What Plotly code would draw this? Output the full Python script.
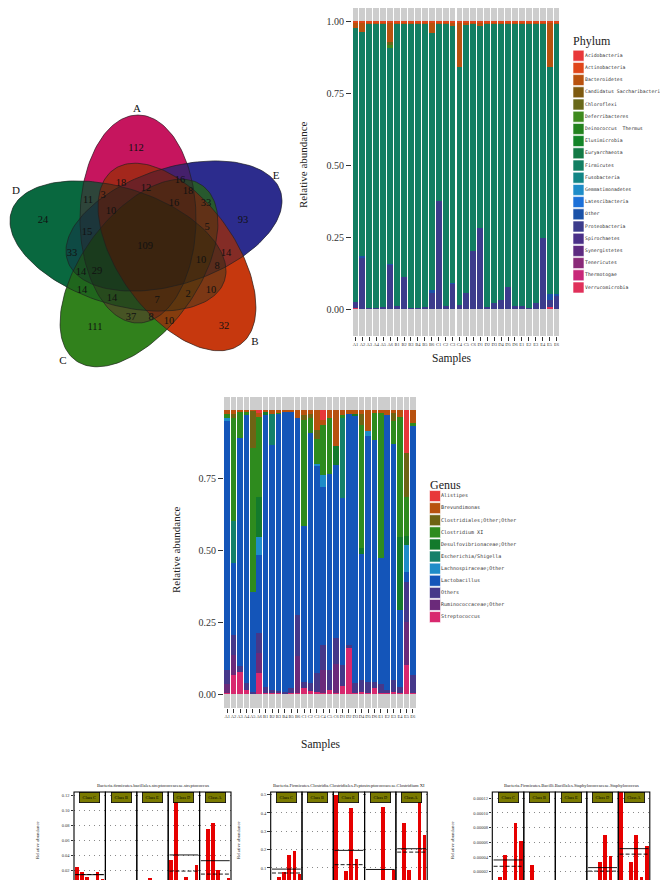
import numpy as np
import plotly.graph_objects as go

W, H = 668, 880
SERIF = "Liberation Serif"
MONO = "DejaVu Sans Mono"

# ---------------- data ----------------
venn_counts = [112, 18, 12, 16, 18, 11, 3, 16, 33, 10, 24, 93, 15, 5, 109, 33, 10, 14,
               14, 29, 8, 14, 14, 7, 2, 10, 37, 8, 10, 111, 32]
venn_sets = ["A", "E", "D", "C", "B"]

samples = ["A1", "A2", "A3", "A4", "A5", "A6", "B1", "B2", "B3", "B4", "B5", "B6",
           "C1", "C2", "C3", "C4", "C5", "C6", "D1", "D2", "D3", "D4", "D5", "D6",
           "E1", "E2", "E3", "E4", "E5", "E6"]

phylum_names = ["Acidobacteria", "Actinobacteria", "Bacteroidetes", "Candidatus Saccharibacteria",
                "Chloroflexi", "Deferribacteres", "Deinococcus  Thermus", "Elusimicrobia",
                "Euryarchaeota", "Firmicutes", "Fusobacteria", "Gemmatimonadetes",
                "Latescibacteria", "Other", "Proteobacteria", "Spirochaetes", "Synergistetes",
                "Tenericutes", "Thermotogae", "Verrucomicrobia"]

actinobacteria = [0.004] * 30
bacteroidetes = [0.020, 0.035, 0.004, 0.004, 0.004, 0.068, 0.004, 0.004, 0.003, 0.003, 0.004, 0.037,
                 0.004, 0.006, 0.015, 0.155, 0.010, 0.008, 0.015, 0.004, 0.004, 0.007, 0.005, 0.004,
                 0.004, 0.004, 0.006, 0.004, 0.155, 0.004]
chloroflexi = [0, 0, 0, 0, 0, 0.012, 0, 0, 0, 0, 0, 0, 0, 0, 0, 0, 0, 0, 0, 0, 0, 0, 0, 0, 0, 0, 0, 0, 0, 0]
deferribacteres = [0, 0, 0, 0, 0, 0.010, 0, 0, 0, 0, 0, 0, 0, 0, 0, 0, 0, 0, 0, 0, 0, 0, 0, 0, 0, 0, 0, 0, 0, 0]
firmicutes = [0.952, 0.778, 0.987, 0.988, 0.985, 0.748, 0.980, 0.882, 0.989, 0.989, 0.986, 0.892,
              0.617, 0.980, 0.891, 0.827, 0.930, 0.788, 0.698, 0.986, 0.972, 0.959, 0.916, 0.982,
              0.980, 0.988, 0.970, 0.745, 0.788, 0.939]
other_phylum = [0, 0.003, 0, 0, 0, 0.003, 0, 0, 0, 0, 0, 0.012, 0, 0, 0.002, 0, 0, 0,
                0, 0, 0, 0, 0, 0, 0, 0, 0, 0, 0.020, 0.005]
proteobacteria = [0.020, 0.180, 0.005, 0.004, 0.007, 0.155, 0.012, 0.110, 0.004, 0.004, 0.006, 0.055,
                  0.375, 0.010, 0.088, 0.014, 0.056, 0.200, 0.283, 0.006, 0.020, 0.030, 0.075, 0.010,
                  0.012, 0.004, 0.020, 0.247, 0.027, 0.048]
verrucomicrobia = [0.004, 0, 0, 0, 0, 0, 0, 0, 0, 0, 0, 0, 0, 0, 0, 0, 0, 0,
                   0, 0, 0, 0, 0, 0, 0, 0, 0, 0, 0.006, 0]

genus_names = ["Alistipes", "Brevundimonas", "Clostridiales;Other;Other", "Clostridium XI",
               "Desulfovibrionaceae;Other", "Escherichia/Shigella", "Lachnospiraceae;Other",
               "Lactobacillus", "Others", "Ruminococcaceae;Other", "Streptococcus"]
alistipes = [0, 0, 0, 0, 0, 0.009, 0, 0, 0, 0, 0, 0, 0, 0, 0, 0.035, 0, 0,
             0, 0, 0, 0, 0, 0, 0, 0, 0, 0, 0.148, 0]
brevundimonas = [0.012, 0.014, 0.003, 0.005, 0.002, 0.015, 0.007, 0.012, 0.006, 0.004, 0.003, 0.026,
                 0.015, 0.014, 0.070, 0.015, 0.026, 0.125, 0.016, 0.012, 0.012, 0.012, 0.073, 0.009,
                 0.009, 0.015, 0.009, 0.024, 0, 0.043]
clostridiales = [0, 0.012, 0, 0, 0.130, 0, 0, 0, 0, 0, 0, 0, 0.017, 0.012, 0.028, 0, 0, 0,
                 0, 0, 0, 0.040, 0, 0, 0, 0, 0.027, 0, 0.154, 0]
clostridium_xi = [0.015, 0.358, 0.093, 0.010, 0.500, 0.278, 0, 0, 0.006, 0, 0, 0,
                  0.368, 0.053, 0.087, 0.176, 0.195, 0, 0.010, 0, 0, 0.426, 0, 0.093,
                  0.504, 0, 0.081, 0.417, 0.133, 0.012]
desulfovibrionaceae = [0, 0, 0, 0, 0, 0.139, 0.010, 0, 0, 0, 0, 0, 0, 0, 0, 0, 0, 0.066,
                       0, 0, 0.005, 0.020, 0, 0, 0, 0, 0, 0.252, 0.032, 0]
escherichia = [0, 0.146, 0, 0, 0, 0, 0, 0.109, 0, 0, 0, 0, 0, 0, 0, 0, 0, 0,
               0.279, 0, 0, 0, 0, 0, 0, 0, 0, 0, 0, 0]
lachnospiraceae = [0.010, 0, 0, 0, 0, 0.061, 0, 0, 0, 0, 0, 0, 0, 0, 0.010, 0.040, 0, 0,
                   0, 0, 0, 0, 0.017, 0, 0, 0, 0, 0, 0.095, 0]
lactobacillus = [0.865, 0.250, 0.792, 0.933, 0.347, 0.272, 0.943, 0.850, 0.963, 0.975, 0.962, 0.684,
                 0.542, 0.869, 0.718, 0.549, 0.681, 0.600, 0.580, 0.803, 0.931, 0.438, 0.852, 0.840,
                 0.438, 0.956, 0.819, 0.267, 0.035, 0.864]
others_genus = [0.048, 0.069, 0.019, 0.023, 0.003, 0.069, 0.022, 0.011, 0.008, 0.005, 0.018, 0.143,
                0.023, 0.025, 0.066, 0.087, 0.069, 0.091, 0.071, 0.011, 0.034, 0.041, 0.040, 0.023,
                0.029, 0.009, 0.041, 0.022, 0.138, 0.063]
ruminococcaceae = [0.030, 0.070, 0, 0, 0, 0.070, 0, 0, 0, 0, 0, 0.130, 0, 0, 0, 0.080, 0, 0.100,
                   0, 0, 0, 0, 0, 0, 0, 0, 0, 0, 0.150, 0]
streptococcus = [0.005, 0.066, 0.078, 0.014, 0.003, 0.072, 0.003, 0.003, 0.002, 0.001, 0.002, 0.002,
                 0.020, 0.012, 0.006, 0.003, 0.014, 0.003, 0.029, 0.159, 0.003, 0.008, 0.003, 0.020,
                 0.005, 0.005, 0.008, 0.003, 0.100, 0.003]

class_names = ["Class C", "Class B", "Class E", "Class D", "Class A"]
strep_title = "Bacteria.firmicutes.bacillales.streptococcaceae.streptococcus"
strep_C = [0.0244, 0.0182, 0.0116, 0.0067, 0.0182, 0.0089]
strep_B = [0.0058, 0.0022, 0.0010, 0.0009, 0.0010, 0.0022]
strep_E = [0.0080, 0.0058, 0.0102, 0.0036, 0.0049, 0.0010]
strep_D = [0.0340, 0.1670, 0.0030, 0.0120, 0.0030, 0.0270]
strep_A = [0.0080, 0.0760, 0.0840, 0.0210, 0.0010, 0.0100]
clos_title = "Bacteria.Firmicutes.Clostridia.Clostridiales.Peptostreptococcaceae.Clostridium XI"
clos_C = [0.005, 0.049, 0.078, 0.169, 0.195, 0.067]
clos_B = [0.0, 0.0, 0.0, 0.0, 0.0, 0.0]
clos_E = [0.497, 0.009, 0.085, 0.427, 0.151, 0.007]
clos_D = [0.018, 0.005, 0.004, 0.431, 0.002, 0.091]
clos_A = [0.004, 0.345, 0.091, 0.0, 0.508, 0.282]
staph_title = "Bacteria.Firmicutes.Bacilli.Bacillales.Staphylococcaceae.Staphylococcus"
staph_C = [8.6e-6, 12.3e-6, 42.3e-6, 4.5e-6, 86.4e-6, 61.4e-6]
staph_B = [4.5e-6, 28.6e-6, 4.5e-6, 0.0, 4.5e-6, 0.0]
staph_E = [4.0e-6, 0.0, 4.0e-6, 0.0, 4.0e-6, 0.0]
staph_D = [0.0, 0.0, 33.2e-6, 70.5e-6, 40.9e-6, 8.2e-6]
staph_A = [133e-6, 4.5e-6, 33.2e-6, 70.5e-6, 12.3e-6, 54.5e-6]

# ---------------- styles / positions ----------------
venn_colors = {"A": "#EE1A72", "E": "#3636AA", "B": "#EE4412", "C": "#3C9C22", "D": "#0C7E4C"}
venn_ellipses = {"A": (130, 211, 104, 58, 90), "E": (166, 218, 112, 58, 18),
                 "B": (169, 249, 108, 58, -54), "C": (131, 265, 108, 58, 54),
                 "D": (110, 238, 112, 58, -18)}
venn_label_xy = [(128, 140), (113, 175), (138, 180), (172, 172), (180, 183), (80, 192), (95, 187),
                 (166, 195), (198, 195), (103, 203), (35, 212), (235, 212), (79, 224), (199, 219),
                 (137, 238), (64, 245), (193, 252), (218, 245), (73, 264), (89, 263), (209, 258),
                 (74, 282), (104, 290), (149, 292), (180, 286), (203, 282), (123, 309), (143, 309),
                 (161, 313), (87, 319), (216, 318)]
venn_set_xy = {"A": (129, 101), "B": (247, 334), "C": (55, 353), "D": (8, 183), "E": (268, 168)}

phylum_colors = ["#E8383A", "#E0461A", "#B8520F", "#7E5A10", "#69691A", "#3F8A1E", "#23821E",
                 "#138428", "#137A45", "#127E62", "#128585", "#1E8CC8", "#1C70D8", "#1A52A8",
                 "#3C3C8C", "#4A3088", "#5E2A80", "#8A2A78", "#C8287A", "#E0305A"]
genus_colors = ["#E8383A", "#B8520F", "#6E6414", "#2E8B1E", "#137A2C", "#14806A", "#1E8CC8",
                "#1455B9", "#45388A", "#6B2A7A", "#D8286E"]

phylum_values = {"Actinobacteria": actinobacteria, "Bacteroidetes": bacteroidetes,
                 "Chloroflexi": chloroflexi, "Deferribacteres": deferribacteres,
                 "Firmicutes": firmicutes, "Other": other_phylum,
                 "Proteobacteria": proteobacteria, "Verrucomicrobia": verrucomicrobia}
genus_values = {"Alistipes": alistipes, "Brevundimonas": brevundimonas,
                "Clostridiales;Other;Other": clostridiales, "Clostridium XI": clostridium_xi,
                "Desulfovibrionaceae;Other": desulfovibrionaceae, "Escherichia/Shigella": escherichia,
                "Lachnospiraceae;Other": lachnospiraceae, "Lactobacillus": lactobacillus,
                "Others": others_genus, "Ruminococcaceae;Other": ruminococcaceae,
                "Streptococcus": streptococcus}


def dom_x(p0, p1):
    return [p0 / W, p1 / W]


def dom_y(top, bottom):
    return [1 - bottom / H, 1 - top / H]


def px(x):
    return x / W


def py(y):
    return 1 - y / H


def hex_rgba(h, a):
    h = h.lstrip("#")
    return "rgba(%d,%d,%d,%.3f)" % (int(h[0:2], 16), int(h[2:4], 16), int(h[4:6], 16), a)


def ellipse(cx, cy, a, b, ang):
    t = np.linspace(0, 2 * np.pi, 160)
    th = np.radians(ang)
    xm = a * np.cos(t) * np.cos(th) - b * np.sin(t) * np.sin(th)
    ym = a * np.cos(t) * np.sin(th) + b * np.sin(t) * np.cos(th)
    return cx + xm, cy - ym


fig = go.Figure()
annotations = []
shapes = []
base_ax = dict(showgrid=False, zeroline=False, showline=False, ticks="", showticklabels=False,
               fixedrange=True)
layout_axes = {}

# ---------------- Venn ----------------
layout_axes["xaxis"] = dict(base_ax, domain=dom_x(0, 300), range=[0, 300], anchor="y")
layout_axes["yaxis"] = dict(base_ax, domain=dom_y(55, 375), range=[375, 55], anchor="x")
order = ["A", "E", "D", "C", "B"]
for layer in ["solid", "tint", "dark"]:
    for s in order:
        ex, ey = ellipse(*venn_ellipses[s])
        if layer == "solid":
            fc = venn_colors[s]
        elif layer == "tint":
            fc = hex_rgba(venn_colors[s], 0.5)
        else:
            fc = "rgba(0,0,0,0.17)"
        fig.add_trace(go.Scatter(x=ex, y=ey, mode="lines", fill="toself", fillcolor=fc,
                                 line=dict(width=0), hoverinfo="skip", xaxis="x", yaxis="y"))
for s in order:
    ex, ey = ellipse(*venn_ellipses[s])
    fig.add_trace(go.Scatter(x=ex, y=ey, mode="lines", line=dict(color="rgba(30,30,30,0.8)", width=0.8),
                             hoverinfo="skip", xaxis="x", yaxis="y"))
fig.add_trace(go.Scatter(x=[p[0] for p in venn_label_xy], y=[p[1] for p in venn_label_xy],
                         mode="text", text=[str(c) for c in venn_counts],
                         textfont=dict(family=SERIF, size=10.5, color="#111"),
                         hoverinfo="skip", xaxis="x", yaxis="y"))
fig.add_trace(go.Scatter(x=[venn_set_xy[s][0] for s in venn_sets], y=[venn_set_xy[s][1] for s in venn_sets],
                         mode="text", text=venn_sets,
                         textfont=dict(family=SERIF, size=11, color="#111"),
                         hoverinfo="skip", xaxis="x", yaxis="y"))


# ---------------- stacked bar panels ----------------
def stacked_panel(xa, ya, names, colors, values, xdom, ytop, ybot, y0px, tickvals, ticktext):
    ppu = 288.0
    ymin = -(ybot - y0px) / ppu
    ymax = (y0px - ytop) / ppu
    fig.add_trace(go.Bar(x=samples, y=[ymax - ymin] * len(samples), base=[ymin] * len(samples),
                         marker=dict(color="#CDCDCD", line=dict(width=0)), width=0.85,
                         hoverinfo="skip", xaxis=xa, yaxis=ya))
    for name, col in reversed(list(zip(names, colors))):
        if name in values:
            fig.add_trace(go.Bar(x=samples, y=values[name], name=name,
                                 marker=dict(color=col, line=dict(width=0)), width=0.85,
                                 xaxis=xa, yaxis=ya))
    n = xa[1:]
    layout_axes["xaxis" + n] = dict(base_ax, domain=dom_x(*xdom), range=[-0.5, len(samples) - 0.5],
                                    type="category", anchor=ya, ticks="outside", ticklen=4,
                                    tickwidth=0.8, tickcolor="#333", showticklabels=True,
                                    tickmode="array", tickvals=samples, ticktext=samples,
                                    tickangle=0, tickfont=dict(family=SERIF, size=4.5, color="#333"))
    layout_axes["yaxis" + n] = dict(base_ax, domain=dom_y(ytop, ybot), range=[ymin, ymax], anchor=xa,
                                    ticks="outside", ticklen=5, tickwidth=0.8, tickcolor="#333",
                                    showticklabels=True, tickmode="array", tickvals=tickvals,
                                    ticktext=ticktext, tickfont=dict(family=SERIF, size=10, color="#333"))


stacked_panel("x2", "y2", phylum_names, phylum_colors, phylum_values, (344, 552), 0, 328, 301,
              [0, 0.25, 0.5, 0.75, 1.0], ["0.00", "0.25", "0.50", "0.75", "1.00"])
stacked_panel("x3", "y3", genus_names, genus_colors, genus_values, (216, 408), 389, 700, 686,
              [0, 0.25, 0.5, 0.75], ["0.00", "0.25", "0.50", "0.75"])

for (tx, ty, txt, ang, sz) in [(295, 157, "Relative abundance", -90, 11), (443, 350, "Samples", 0, 11.5),
                               (168, 542, "Relative abundance", -90, 11), (312, 736, "Samples", 0, 11.5)]:
    annotations.append(dict(x=px(tx), y=py(ty), xref="paper", yref="paper", text=txt, showarrow=False,
                            textangle=ang, font=dict(family=SERIF, size=sz, color="#222"),
                            xanchor="center", yanchor="middle"))


# ---------------- custom legends ----------------
def legend_block(xa, ya, names, colors, x0, x1, ytop, step, sw_x, txt_x, fsize):
    n = len(names)
    fig.add_trace(go.Scatter(x=[sw_x] * n, y=list(range(n)), mode="markers",
                             marker=dict(symbol="square", size=11, color=colors,
                                         line=dict(color="white", width=0.6)),
                             hoverinfo="skip", xaxis=xa, yaxis=ya))
    fig.add_trace(go.Scatter(x=[txt_x] * n, y=list(range(n)), mode="text", text=names,
                             textposition="middle right",
                             textfont=dict(family=MONO, size=fsize, color="#333"),
                             hoverinfo="skip", xaxis=xa, yaxis=ya))
    k = xa[1:]
    layout_axes["xaxis" + k] = dict(base_ax, domain=dom_x(x0, x1), range=[x0, x1], anchor=ya)
    layout_axes["yaxis" + k] = dict(base_ax, domain=dom_y(ytop, ytop + step * n),
                                    range=[n - 0.5, -0.5], anchor=xa)


legend_block("x4", "y4", phylum_names, phylum_colors, 560, 668, 41.6, 12.2, 570.5, 577, 4.8)
legend_block("x5", "y5", genus_names, genus_colors, 415, 540, 482, 12.1, 427, 433, 5.0)
annotations.append(dict(x=px(563), y=py(33), xref="paper", yref="paper", text="Phylum", showarrow=False,
                        font=dict(family=SERIF, size=12, color="#222"), xanchor="left", yanchor="middle"))
annotations.append(dict(x=px(420), y=py(477), xref="paper", yref="paper", text="Genus", showarrow=False,
                        font=dict(family=SERIF, size=12, color="#222"), xanchor="left", yanchor="middle"))

# ---------------- bottom facet panels ----------------
panels = [
    dict(title=strep_title, data=[strep_C, strep_B, strep_E, strep_D, strep_A], x0=66, fw=31.4,
         y0px=877.7, ppu=750.0, tickvals=[0, 0.02, 0.04, 0.06, 0.08, 0.10, 0.12], fmt="%.2f", ytx=29),
    dict(title=clos_title, data=[clos_C, clos_B, clos_E, clos_D, clos_A], x0=262.7, fw=31.3,
         y0px=878.3, ppu=183.3, tickvals=[0, 0.1, 0.2, 0.3, 0.4, 0.5], fmt="%.1f", ytx=230),
    dict(title=staph_title, data=[staph_C, staph_B, staph_E, staph_D, staph_A], x0=484.3, fw=31.5,
         y0px=878.3, ppu=733500.0, tickvals=[0, 2e-5, 4e-5, 6e-5, 8e-5, 1e-4, 1.2e-4], fmt="%.5f",
         ytx=444),
]
ptop, pbot = 784, 880
axis_id = 6
for p in panels:
    ynum = axis_id
    yname = "y%d" % ynum
    ymin = -(pbot - p["y0px"]) / p["ppu"]
    ymax = (p["y0px"] - ptop) / p["ppu"]
    for j, vals in enumerate(p["data"]):
        xn = axis_id + j
        xname = "x%d" % xn
        fx0 = p["x0"] + j * p["fw"]
        fx1 = fx0 + p["fw"]
        fig.add_trace(go.Bar(x=list(range(len(vals))), y=vals, width=0.72,
                             marker=dict(color="#E60000", line=dict(width=0)),
                             hoverinfo="skip", xaxis=xname, yaxis=yname))
        mean_v = float(np.mean(vals))
        med_v = float(np.median(vals))
        fig.add_trace(go.Scatter(x=[-0.3, 5.3], y=[mean_v, mean_v], mode="lines",
                                 line=dict(color="black", width=0.9), hoverinfo="skip",
                                 xaxis=xname, yaxis=yname))
        fig.add_trace(go.Scatter(x=[-0.3, 5.3], y=[med_v, med_v], mode="lines",
                                 line=dict(color="black", width=0.9, dash="4px,2px"), hoverinfo="skip",
                                 xaxis=xname, yaxis=yname))
        layout_axes["xaxis%d" % xn] = dict(base_ax, domain=dom_x(fx0, fx1), range=[-0.55, 5.55],
                                           anchor=yname)
        shapes.append(dict(type="rect", xref="x%d domain" % xn, yref="%s domain" % yname,
                           x0=0, x1=1, y0=0, y1=1, line=dict(color="black", width=1.1),
                           fillcolor="rgba(0,0,0,0)", layer="above"))
        annotations.append(dict(x=0.5, y=py(789), xref="x%d domain" % xn, yref="paper",
                                text=class_names[j], showarrow=False, width=19, height=9,
                                bgcolor="#7A7A00", bordercolor="black", borderwidth=0.8, borderpad=0,
                                font=dict(family=SERIF, size=4.3, color="black"),
                                xanchor="center", yanchor="middle"))
    layout_axes["yaxis%d" % ynum] = dict(
        base_ax, domain=dom_y(ptop, pbot), range=[ymin, ymax], anchor="x%d" % axis_id,
        showgrid=True, gridcolor="#8A8A8A", gridwidth=1, griddash="1px,4px",
        ticks="outside", ticklen=2.5, tickwidth=0.6, tickcolor="#333", showticklabels=True,
        tickmode="array", tickvals=p["tickvals"], ticktext=[p["fmt"] % v for v in p["tickvals"]],
        tickfont=dict(family=SERIF, size=4.5, color="#333"))
    cx = p["x0"] + 2.5 * p["fw"]
    annotations.append(dict(x=px(cx), y=py(777), xref="paper", yref="paper", text=p["title"],
                            showarrow=False, font=dict(family=SERIF, size=4.6, color="#222"),
                            xanchor="center", yanchor="middle"))
    annotations.append(dict(x=px(p["ytx"]), y=py(832), xref="paper", yref="paper",
                            text="Relative abundance", showarrow=False, textangle=-90,
                            font=dict(family=SERIF, size=4.8, color="#222"),
                            xanchor="center", yanchor="middle"))
    axis_id += 5

fig.update_layout(width=W, height=H, margin=dict(l=0, r=0, t=0, b=0), paper_bgcolor="white",
                  plot_bgcolor="white", barmode="stack", bargap=0, showlegend=False,
                  annotations=annotations, shapes=shapes, **layout_axes)
fig.write_html("out.html")
